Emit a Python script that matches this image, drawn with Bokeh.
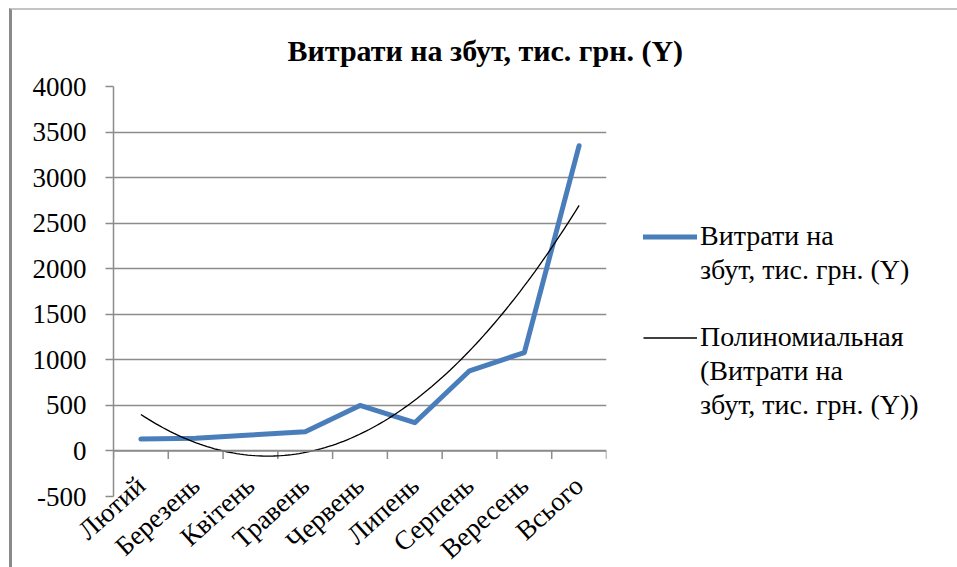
import numpy as np
from bokeh.plotting import figure
from bokeh.models import (Range1d, FactorRange, FixedTicker, Span, Legend,
                          LegendItem, ColumnDataSource)
from bokeh.embed import file_html
from bokeh.resources import INLINE

# ---- data ----
title_text = "Витрати на збут, тис. грн. (Y)"
categories = ["Лютий", "Березень", "Квітень", "Травень", "Червень",
              "Липень", "Серпень", "Вересень", "Всього"]
costs = [130, 140, 175, 210, 500, 310, 880, 1080, 3350]
y_ticks = [-500, 0, 500, 1000, 1500, 2000, 2500, 3000, 3500, 4000]
series_lines = ["Витрати на", "збут, тис. грн. (Y)"]
trend_lines = ["Полиномиальная", "(Витрати на", "збут, тис. грн. (Y))"]

FONT = "Liberation Serif"
GRID = "#8c8c8c"
BLUE = "#4a7ebb"

n = len(categories)
bounds = list(range(n + 1))

# polynomial (order 2) trendline fitted to the series, as in the original
coef = np.polyfit(np.arange(1, n + 1), costs, 2)
tx = np.linspace(1, n, 120)
ty = np.polyval(coef, tx)

p = figure(frame_width=493, frame_height=410, output_backend="svg",
           toolbar_location=None,
           x_range=FactorRange(*categories), y_range=Range1d(-500, 4000),
           min_border_left=101, min_border_right=0,
           min_border_top=76, min_border_bottom=30)
p.styles = {"margin-left": "9px", "margin-top": "8px",
            "border-left": "3px solid #8a8a8a", "border-top": "2px solid #c4c4c4"}
p.outline_line_color = None
p.background_fill_color = "white"
p.border_fill_color = "white"
p.xgrid.grid_line_color = None

p.title.text = title_text
p.title.align = "left"
p.title.offset = 174
p.title.standoff = 39
p.title.text_font = FONT
p.title.text_font_size = "30px"
p.title.text_font_style = "bold"
p.title.text_color = "black"

ax = p.yaxis[0]
ax.ticker = FixedTicker(ticks=y_ticks)
ax.major_label_overrides = {-500: "-500"}
ax.axis_line_color = GRID
ax.axis_line_width = 1.5
ax.major_tick_line_color = GRID
ax.major_tick_line_width = 1.5
ax.major_tick_out = 8
ax.major_tick_in = 0
ax.minor_tick_line_color = None
ax.major_label_standoff = 19
ax.major_label_text_font = FONT
ax.major_label_text_font_size = "27px"
ax.major_label_text_color = "black"

p.ygrid.grid_line_color = GRID
p.ygrid.grid_line_width = 1.5

# category axis: labels from the axis, line and ticks drawn at y = 0
xa = p.xaxis[0]
xa.axis_line_color = None
xa.major_tick_line_color = None
xa.minor_tick_line_color = None
xa.major_label_orientation = np.deg2rad(42)
xa.major_label_standoff = -21
xa.major_label_text_font = FONT
xa.major_label_text_font_size = "27px"
xa.major_label_text_color = "black"

p.add_layout(Span(location=0, dimension="width", line_color=GRID, line_width=1.5))
p.segment(x0=bounds, y0=[0] * len(bounds), x1=bounds, y1=[-88] * len(bounds),
          line_color=GRID, line_width=1.5)

src = ColumnDataSource(dict(x=categories, y=costs))
blue = p.line("x", "y", source=src, line_color=BLUE, line_width=5,
              line_cap="round", line_join="round")
trend = p.line(tx - 0.5, ty, line_color="black", line_width=1.3)
ghost = p.line([], [], line_alpha=0)

items = [LegendItem(label=series_lines[0], renderers=[blue]),
         LegendItem(label=series_lines[1], renderers=[ghost]),
         LegendItem(label=" ", renderers=[ghost]),
         LegendItem(label=trend_lines[0], renderers=[trend]),
         LegendItem(label=trend_lines[1], renderers=[ghost]),
         LegendItem(label=trend_lines[2], renderers=[ghost])]

legend = Legend(items=items, location=(37, 75), padding=0, margin=0,
                border_line_color=None, background_fill_alpha=0,
                glyph_width=54, glyph_height=31, label_height=31,
                label_standoff=3, spacing=2,
                label_text_font=FONT, label_text_font_size="28px",
                label_text_color="black")
p.add_layout(legend, "right")

open("out.html", "w").write(file_html(p, INLINE))
